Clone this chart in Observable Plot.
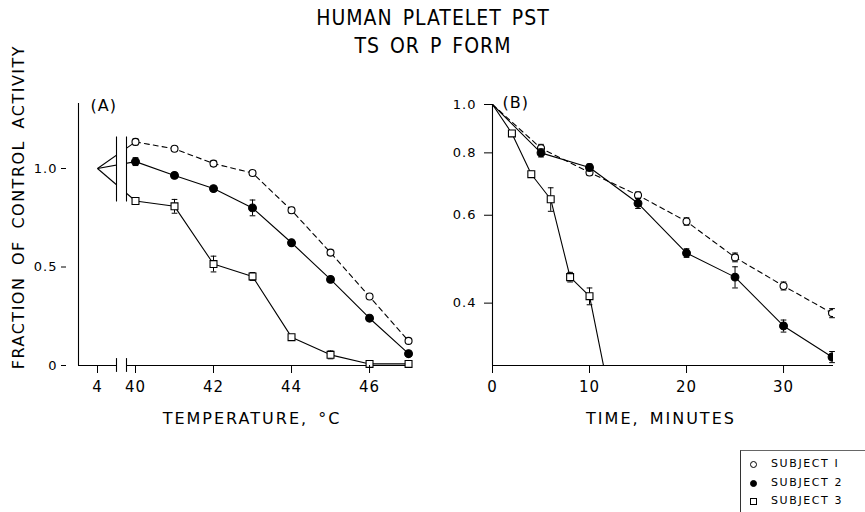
<!DOCTYPE html>
<html>
<head>
<meta charset="utf-8">
<script src="https://cdn.jsdelivr.net/npm/d3@7"></script>
<script src="https://cdn.jsdelivr.net/npm/@observablehq/plot@0.6"></script>
<style>
  body { margin: 0; background: #fff; }
  #wrap { position: relative; width: 865px; height: 512px; overflow: hidden; background: #fff; color: #000;
          font-family: "DejaVu Sans", sans-serif; }
  #title { position: absolute; left: 233px; width: 400px; top: 4px; text-align: center;
           font-family: "DejaVu Sans Condensed", "DejaVu Sans", sans-serif; font-stretch: condensed;
           font-size: 21px; line-height: 28px; letter-spacing: 1px; word-spacing: 3px; font-weight: 300; }
  #ylab { position: absolute; left: 18px; top: 207px; transform: translate(-50%, -50%) rotate(-90deg);
          white-space: nowrap; font-size: 16px; letter-spacing: 1.5px; word-spacing: 5px; }
  .xlab { position: absolute; top: 418px; transform: translate(-50%, -50%); white-space: nowrap;
          font-size: 16px; letter-spacing: 2px; word-spacing: 3px; }
  #panelA { position: absolute; left: 0; top: 60px; }
  #panelB { position: absolute; left: 440px; top: 60px; }
  #legend { position: absolute; left: 740px; top: 450px; width: 125px; height: 62px;
            border-left: 1px solid #333; border-top: 1px solid #666; font-size: 11px; letter-spacing: 1.6px; }
  .lrow { position: absolute; left: 0; height: 14px; line-height: 14px; white-space: nowrap; }
  .lrow .sym { position: absolute; left: 9px; top: 4px; width: 5px; height: 5px; border: 1px solid #000; box-sizing: content-box; }
  .lrow .txt { position: absolute; left: 30px; top: 0; }
</style>
</head>
<body>
<div id="wrap">
  <div id="title">HUMAN PLATELET PST<br>TS OR P FORM</div>
  <div id="ylab">FRACTION OF CONTROL ACTIVITY</div>
  <div id="panelA"></div>
  <div id="panelB"></div>
  <div class="xlab" style="left:252px">TEMPERATURE, °C</div>
  <div class="xlab" style="left:661px">TIME, MINUTES</div>
  <div id="legend"></div>
</div>
<script>
// ---------- Panel A: temperature inactivation ----------
const controlTemp = 4;          // control incubation temperature
const controlValue = 1.0;       // control activity (all subjects)
const tempsA = [40, 41, 42, 43, 44, 45, 46, 47];
const subject1A = [1.135, 1.10, 1.025, 0.977, 0.788, 0.573, 0.35, 0.125];
const subject2A = [1.035, 0.965, 0.898, 0.80, 0.623, 0.437, 0.24, 0.06];
const subject3A = [0.835, 0.808, 0.515, 0.452, 0.144, 0.054, 0.008, 0.008];
const err1A = [0.015, 0.01, 0.015, 0.012, 0.015, 0.012, 0, 0];
const err2A = [0.02, 0.012, 0.012, 0.04, 0.012, 0.012, 0.012, 0.012];
const err3A = [0.012, 0.035, 0.04, 0.02, 0.012, 0.02, 0.012, 0];
const ticksXA = [4, 40, 42, 44, 46];
const ticksYA = [0, 0.5, 1.0];

// ---------- Panel B: time course at fixed temperature ----------
const times12B = [0, 5, 10, 15, 20, 25, 30, 35];
const subject1B = [1.0, 0.817, 0.731, 0.658, 0.583, 0.494, 0.433, 0.382];
const subject2B = [1.0, 0.80, 0.748, 0.634, 0.504, 0.451, 0.360, 0.312];
const times3B = [0, 2, 4, 6, 8, 10, 12];
const subject3B = [1.0, 0.875, 0.725, 0.646, 0.451, 0.413, 0.265];
const err1B = [0, 0.015, 0.01, 0.01, 0.01, 0.01, 0.008, 0.008];
const err2B = [0, 0.015, 0.012, 0.015, 0.01, 0.022, 0.01, 0.008];
const err3B = [0, 0.01, 0.01, 0.035, 0.01, 0.016, 0];
const ticksXB = [0, 10, 20, 30];
const ticksYB = [0.4, 0.6, 0.8, 1.0];

const subjects = ["SUBJECT 1", "SUBJECT 2", "SUBJECT 3"];

// axis-break helpers for panel A (scale stops between the 4 °C control and 40 °C)
const axisOriginA = 3;
const breakA = [20, 30];

function rows(xs, ys, es, subject) {
  return xs.map((x, i) => ({x, y: ys[i], e: es[i], subject}));
}
const dataA = [
  ...rows(tempsA, subject1A, err1A, subjects[0]),
  ...rows(tempsA, subject2A, err2A, subjects[1]),
  ...rows(tempsA, subject3A, err3A, subjects[2])
];
const controlLinks = [subject1A, subject2A, subject3A].map((s, i) => ({
  x1: controlTemp, y1: controlValue, x2: tempsA[0], y2: s[0], subject: subjects[i]
}));
const dataB = [
  ...rows(times12B, subject1B, err1B, subjects[0]),
  ...rows(times12B, subject2B, err2B, subjects[1]),
  ...rows(times3B, subject3B, err3B, subjects[2])
];

const capSymbol = {
  draw(context, size) {
    const w = Math.sqrt(size);
    context.moveTo(-w / 2, 0);
    context.lineTo(w / 2, 0);
  }
};
const symbolFor = {"SUBJECT 1": "circle", "SUBJECT 2": "circle", "SUBJECT 3": "square"};
const fillFor = {"SUBJECT 1": "white", "SUBJECT 2": "black", "SUBJECT 3": "white"};
const dashFor = s => s === "SUBJECT 1" ? "5,4" : null;

function seriesMarks(data, opts = {}) {
  const marks = [];
  for (const s of subjects) {
    const d = data.filter(r => r.subject === s);
    const pts = d.filter(r => r.e !== undefined && !(opts.skipFirst && r === d[0]));
    marks.push(Plot.line(d, {x: "x", y: "y", stroke: "black", strokeWidth: 1.1,
      strokeDasharray: dashFor(s), clip: opts.clip}));
    const eb = pts.filter(r => r.e > 0);
    marks.push(Plot.ruleX(eb, {x: "x", y1: r => r.y - r.e, y2: r => r.y + r.e, stroke: "black", strokeWidth: 1}));
    marks.push(Plot.dot(eb, {x: "x", y: r => r.y - r.e, symbol: capSymbol, r: 3.2, stroke: "black", strokeWidth: 1}));
    marks.push(Plot.dot(eb, {x: "x", y: r => r.y + r.e, symbol: capSymbol, r: 3.2, stroke: "black", strokeWidth: 1}));
    marks.push(Plot.dot(pts, {x: "x", y: "y", symbol: symbolFor[s], fill: fillFor[s], stroke: "black",
      strokeWidth: 1.1, r: s === "SUBJECT 2" ? 3.9 : (s === "SUBJECT 3" ? 3.9 : 3.5), clip: opts.clip}));
  }
  return marks;
}

const fmt = d => d === 0 ? "0" : d.toFixed(1);
const tickStyle = {fontFamily: "DejaVu Sans, sans-serif", fontSize: "13px", letterSpacing: "1px", background: "transparent", overflow: "visible"};

const plotA = Plot.plot({
  width: 440, height: 380,
  marginLeft: 78, marginRight: 30, marginTop: 43, marginBottom: 75,
  style: tickStyle,
  x: {type: "linear", domain: [axisOriginA, controlTemp, breakA[0], breakA[1], tempsA[0], 47.05],
      range: [78, 97, 116, 126, 135, 410]},
  y: {domain: [0, 1.33]},
  marks: [
    Plot.ruleY([0], {stroke: "black", strokeWidth: 1.1}),
    Plot.ruleX([axisOriginA], {y1: 0, y2: 1.33, stroke: "black", strokeWidth: 1.1}),
    Plot.link(controlLinks, {x1: "x1", y1: "y1", x2: "x2", y2: "y2", stroke: "black", strokeWidth: 1.1,
      strokeDasharray: d => dashFor(d.subject)}),
    ...seriesMarks(dataA),
    Plot.rect([0], {x1: breakA[0], x2: breakA[1], y1: -0.03, y2: 1.2, fill: "white"}),
    Plot.ruleX(breakA, {y1: 0.83, y2: 1.16, stroke: "black", strokeWidth: 1.1}),
    Plot.ruleX(breakA, {y1: -0.035, y2: 0.035, stroke: "black", strokeWidth: 1.1}),
    Plot.axisX({ticks: ticksXA, tickSize: 8, tickPadding: 8, fontSize: 15, label: null}),
    Plot.axisY({ticks: ticksYA, tickFormat: fmt, tickSize: 5, tickPadding: 4, dx: -12, fontSize: 13, label: null}),
    Plot.text(["(A)"], {frameAnchor: "top-left", dx: 12, dy: -4, fontSize: 16, textAnchor: "start"})
  ]
});
document.getElementById("panelA").appendChild(plotA);

const plotB = Plot.plot({
  width: 425, height: 380,
  marginLeft: 52, marginRight: 32, marginTop: 44, marginBottom: 75,
  style: tickStyle,
  x: {domain: [0, 35.15]},
  y: {type: "log", domain: [0.30, 1.0]},
  marks: [
    Plot.ruleY([0.30], {stroke: "black", strokeWidth: 1.1}),
    Plot.ruleX([0], {y1: 0.30, y2: 1.0, stroke: "black", strokeWidth: 1.1}),
    ...seriesMarks(dataB, {skipFirst: true, clip: true}),
    Plot.axisX({ticks: ticksXB, tickSize: 8, tickPadding: 8, fontSize: 15, label: null}),
    Plot.axisY({ticks: ticksYB, tickFormat: fmt, tickSize: 8, tickPadding: 8, fontSize: 13, label: null}),
    Plot.text(["(B)"], {frameAnchor: "top-left", dx: 10, dy: -8, fontSize: 16, textAnchor: "start"})
  ]
});
document.getElementById("panelB").appendChild(plotB);

// legend
const legend = document.getElementById("legend");
subjects.forEach((s, i) => {
  const row = document.createElement("div");
  row.className = "lrow";
  row.style.top = (6 + i * 18.5) + "px";
  const sym = document.createElement("span");
  sym.className = "sym";
  if (symbolFor[s] === "circle") sym.style.borderRadius = "50%";
  sym.style.background = fillFor[s];
  const txt = document.createElement("span");
  txt.className = "txt";
  txt.textContent = s.replace("1", "I");
  row.appendChild(sym); row.appendChild(txt);
  legend.appendChild(row);
});
</script>
</body>
</html>
